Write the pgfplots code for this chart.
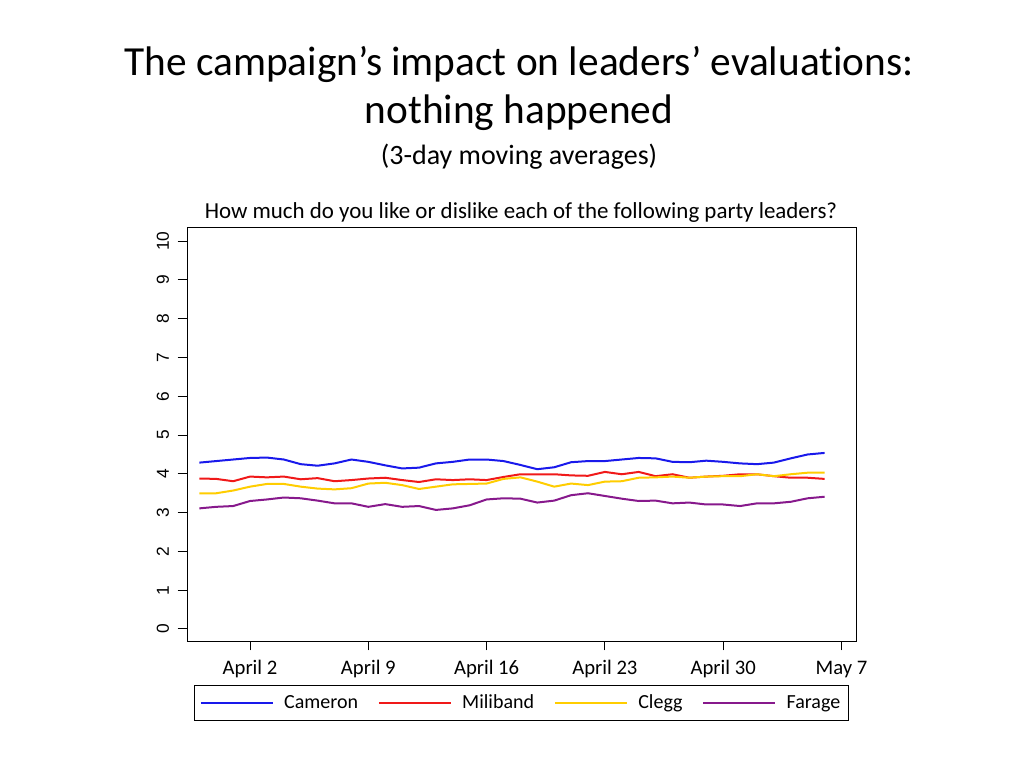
\documentclass[border=0pt]{standalone}
\usepackage{pgfplots}
\pgfplotsset{compat=1.18}
\usepackage{fontspec}
\setmainfont{Carlito}[Ligatures=NoCommon]
\newfontfamily\arialfont{Liberation Sans}
\definecolor{cblue}{RGB}{25,25,235}
\definecolor{cred}{RGB}{240,25,25}
\definecolor{cyellow}{RGB}{255,205,0}
\definecolor{cpurple}{RGB}{135,25,140}
\begin{document}
\begin{tikzpicture}
\useasboundingbox (0,0) rectangle (768pt,576pt);
\node[anchor=base,font=\fontsize{31}{36}\selectfont] at (389.25pt,519pt) {The campaign’s impact on leaders’ evaluations:};
\node[anchor=base,font=\fontsize{31}{36}\selectfont] at (389.25pt,483pt) {nothing happened};
\node[anchor=base,font=\fontsize{21}{24}\selectfont] at (389.25pt,452.25pt) {(3-day moving averages)};
\node[anchor=base,font=\fontsize{17.2}{20}\selectfont] at (390.75pt,411.75pt) {How much do you like or dislike each of the following party leaders?};
\begin{axis}[
  at={(140.25pt,95.25pt)}, anchor=south west,
  scale only axis, width=501.75pt, height=309.75pt,
  xmin=-1.73, xmax=37.86, ymin=-0.31, ymax=10.34,
  axis line style={black, line width=0.75pt},
  tick align=outside, major tick length=7pt,
  every tick/.style={black, line width=0.75pt},
  xtick pos=lower, ytick pos=left,
  /pgf/number format/assume math mode=true,
  xtick={2,9,16,23,30,37},
  xticklabels={April 2, April 9, April 16, April 23, April 30, May 7},
  xticklabel style={font=\fontsize{15.5}{18}\selectfont, yshift=-3pt, text height=11.5pt, text depth=3pt},
  ytick={0,1,...,10},
  yticklabel style={font=\arialfont\fontsize{13}{15}\selectfont, rotate=90, anchor=south, yshift=3pt},
  legend style={at={(0.5,-0.1065)}, anchor=north, legend columns=4, draw=black, line width=0.75pt,
    font=\fontsize{15}{18}\selectfont, inner xsep=4pt, inner ysep=5pt,
    /tikz/every odd column/.append style={column sep=6pt},
    /tikz/every even column/.append style={column sep=13pt}},
  legend image code/.code={\draw[#1, line width=1.1pt] (0pt,0pt) -- (54pt,0pt);},
  every axis plot/.append style={line width=1.5pt, mark=none},
]
\addplot[cblue] coordinates {(-1,4.29)(0,4.33)(1,4.37)(2,4.41)(3,4.42)(4,4.37)(5,4.25)(6,4.21)(7,4.27)(8,4.37)(9,4.31)(10,4.22)(11,4.14)(12,4.16)(13,4.27)(14,4.31)(15,4.37)(16,4.37)(17,4.33)(18,4.23)(19,4.12)(20,4.17)(21,4.30)(22,4.33)(23,4.33)(24,4.37)(25,4.41)(26,4.40)(27,4.31)(28,4.30)(29,4.34)(30,4.31)(31,4.27)(32,4.25)(33,4.29)(34,4.40)(35,4.50)(36,4.54)};
\addlegendentry{Cameron}
\addplot[cred] coordinates {(-1,3.88)(0,3.87)(1,3.81)(2,3.93)(3,3.91)(4,3.93)(5,3.86)(6,3.89)(7,3.81)(8,3.84)(9,3.88)(10,3.90)(11,3.84)(12,3.79)(13,3.86)(14,3.84)(15,3.86)(16,3.84)(17,3.92)(18,3.99)(19,3.99)(20,3.99)(21,3.96)(22,3.95)(23,4.05)(24,3.99)(25,4.05)(26,3.94)(27,3.99)(28,3.90)(29,3.93)(30,3.95)(31,3.99)(32,3.99)(33,3.94)(34,3.90)(35,3.90)(36,3.87)};
\addlegendentry{Miliband}
\addplot[cyellow] coordinates {(-1,3.50)(0,3.50)(1,3.57)(2,3.67)(3,3.74)(4,3.74)(5,3.67)(6,3.62)(7,3.60)(8,3.63)(9,3.75)(10,3.77)(11,3.71)(12,3.61)(13,3.67)(14,3.73)(15,3.74)(16,3.75)(17,3.87)(18,3.91)(19,3.80)(20,3.67)(21,3.75)(22,3.71)(23,3.80)(24,3.81)(25,3.90)(26,3.91)(27,3.93)(28,3.90)(29,3.93)(30,3.94)(31,3.94)(32,3.99)(33,3.94)(34,3.99)(35,4.03)(36,4.03)};
\addlegendentry{Clegg}
\addplot[cpurple] coordinates {(-1,3.11)(0,3.15)(1,3.17)(2,3.30)(3,3.34)(4,3.39)(5,3.37)(6,3.31)(7,3.24)(8,3.24)(9,3.15)(10,3.22)(11,3.15)(12,3.17)(13,3.07)(14,3.11)(15,3.19)(16,3.34)(17,3.37)(18,3.36)(19,3.26)(20,3.31)(21,3.45)(22,3.50)(23,3.43)(24,3.36)(25,3.30)(26,3.31)(27,3.24)(28,3.26)(29,3.21)(30,3.21)(31,3.17)(32,3.24)(33,3.24)(34,3.28)(35,3.37)(36,3.41)};
\addlegendentry{Farage}
\end{axis}
\end{tikzpicture}
\end{document}
